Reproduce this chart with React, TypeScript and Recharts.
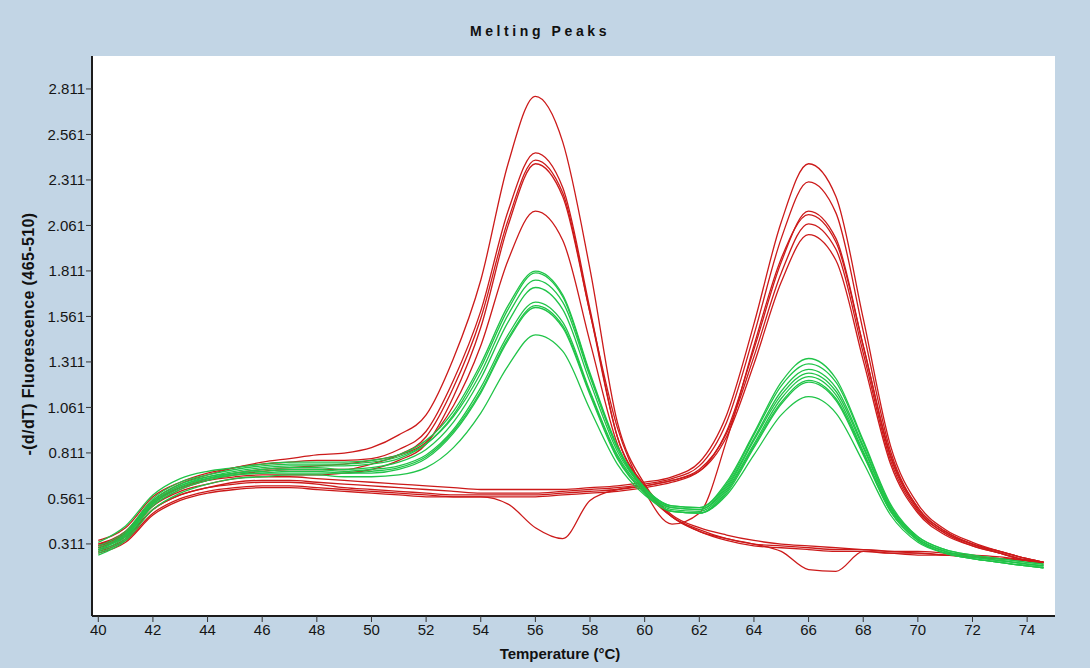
import { LineChart, Line, XAxis, YAxis, CartesianGrid } from 'recharts';

// temperature grid (°C)
const temps = [
  40, 41, 42, 43, 44, 45, 46, 47, 48, 49, 50, 51, 52, 53, 54, 55, 56, 57, 58, 59,
  60, 61, 62, 63, 64, 65, 66, 67, 68, 69, 70, 71, 72, 73, 74, 74.6,
];

// red: low-melting peak (~56 °C)
const red56a = [0.31, 0.38, 0.55, 0.64, 0.69, 0.73, 0.76, 0.78, 0.8, 0.81, 0.84, 0.91, 1.02, 1.33, 1.76, 2.4, 2.77, 2.52, 1.82, 0.98, 0.64, 0.47, 0.4, 0.36, 0.33, 0.31, 0.3, 0.29, 0.28, 0.27, 0.27, 0.26, 0.25, 0.24, 0.22, 0.21];
const red56b = [0.33, 0.4, 0.57, 0.65, 0.7, 0.73, 0.75, 0.76, 0.77, 0.77, 0.78, 0.83, 0.93, 1.21, 1.59, 2.14, 2.46, 2.27, 1.6, 0.9, 0.62, 0.46, 0.39, 0.34, 0.31, 0.3, 0.29, 0.28, 0.28, 0.27, 0.26, 0.25, 0.24, 0.23, 0.22, 0.21];
const red56c = [0.3, 0.36, 0.52, 0.61, 0.66, 0.69, 0.71, 0.72, 0.72, 0.72, 0.75, 0.8, 0.9, 1.17, 1.55, 2.09, 2.42, 2.24, 1.58, 0.9, 0.63, 0.46, 0.38, 0.33, 0.3, 0.29, 0.28, 0.27, 0.27, 0.26, 0.25, 0.25, 0.24, 0.23, 0.22, 0.21];
const red56d = [0.29, 0.36, 0.53, 0.62, 0.67, 0.7, 0.72, 0.73, 0.74, 0.75, 0.77, 0.8, 0.87, 1.07, 1.4, 1.87, 2.14, 1.98, 1.42, 0.86, 0.6, 0.46, 0.38, 0.34, 0.31, 0.27, 0.17, 0.16, 0.27, 0.26, 0.26, 0.25, 0.24, 0.23, 0.22, 0.21];
// red with both peaks
const redBoth = [0.31, 0.37, 0.54, 0.62, 0.66, 0.68, 0.69, 0.69, 0.69, 0.7, 0.72, 0.77, 0.86, 1.12, 1.5, 2.06, 2.4, 2.22, 1.58, 0.95, 0.6, 0.42, 0.48, 0.88, 1.4, 1.88, 2.12, 1.97, 1.4, 0.8, 0.51, 0.38, 0.31, 0.27, 0.23, 0.21];
// red: high-melting peak (~66 °C)
const red66a = [0.3, 0.37, 0.52, 0.6, 0.64, 0.67, 0.68, 0.68, 0.67, 0.66, 0.65, 0.64, 0.63, 0.62, 0.61, 0.61, 0.61, 0.61, 0.62, 0.63, 0.65, 0.68, 0.76, 1.02, 1.52, 2.08, 2.4, 2.22, 1.55, 0.85, 0.53, 0.39, 0.32, 0.27, 0.23, 0.21];
const red66b = [0.29, 0.35, 0.5, 0.58, 0.62, 0.65, 0.66, 0.66, 0.65, 0.64, 0.63, 0.62, 0.61, 0.6, 0.59, 0.59, 0.59, 0.6, 0.61, 0.62, 0.64, 0.67, 0.74, 0.98, 1.46, 1.99, 2.3, 2.13, 1.48, 0.82, 0.51, 0.38, 0.31, 0.27, 0.23, 0.21];
const red66c = [0.27, 0.33, 0.48, 0.56, 0.6, 0.62, 0.63, 0.63, 0.62, 0.61, 0.6, 0.59, 0.58, 0.57, 0.57, 0.57, 0.57, 0.58, 0.59, 0.6, 0.62, 0.65, 0.71, 0.93, 1.38, 1.86, 2.14, 1.99, 1.4, 0.79, 0.5, 0.37, 0.31, 0.26, 0.22, 0.21];
const red66d = [0.28, 0.34, 0.5, 0.58, 0.62, 0.64, 0.65, 0.65, 0.64, 0.62, 0.61, 0.6, 0.59, 0.58, 0.58, 0.58, 0.58, 0.59, 0.6, 0.61, 0.63, 0.66, 0.72, 0.92, 1.34, 1.8, 2.07, 1.93, 1.36, 0.77, 0.49, 0.37, 0.3, 0.26, 0.22, 0.21];
const red66e = [0.26, 0.32, 0.47, 0.55, 0.59, 0.61, 0.62, 0.62, 0.61, 0.6, 0.59, 0.58, 0.57, 0.57, 0.57, 0.53, 0.4, 0.34, 0.55, 0.61, 0.63, 0.66, 0.71, 0.9, 1.3, 1.75, 2.01, 1.87, 1.32, 0.75, 0.48, 0.36, 0.3, 0.26, 0.22, 0.2];

// green: both peaks
const greenA = [0.32, 0.41, 0.58, 0.67, 0.71, 0.73, 0.75, 0.76, 0.76, 0.76, 0.77, 0.8, 0.88, 1.04, 1.3, 1.62, 1.81, 1.68, 1.25, 0.85, 0.62, 0.52, 0.51, 0.65, 0.92, 1.2, 1.33, 1.22, 0.88, 0.53, 0.35, 0.28, 0.25, 0.23, 0.21, 0.2];
const greenB = [0.28, 0.36, 0.54, 0.63, 0.68, 0.71, 0.73, 0.74, 0.74, 0.74, 0.75, 0.78, 0.86, 1.02, 1.28, 1.6, 1.8, 1.67, 1.24, 0.84, 0.61, 0.51, 0.5, 0.62, 0.88, 1.13, 1.25, 1.15, 0.84, 0.51, 0.34, 0.27, 0.24, 0.22, 0.2, 0.19];
const greenC = [0.3, 0.38, 0.56, 0.65, 0.69, 0.72, 0.74, 0.75, 0.75, 0.75, 0.76, 0.79, 0.86, 1.01, 1.25, 1.57, 1.76, 1.64, 1.23, 0.84, 0.62, 0.52, 0.51, 0.64, 0.91, 1.18, 1.3, 1.2, 0.87, 0.52, 0.35, 0.28, 0.25, 0.23, 0.21, 0.2];
const greenD = [0.27, 0.35, 0.53, 0.62, 0.67, 0.7, 0.72, 0.73, 0.73, 0.72, 0.73, 0.76, 0.83, 0.98, 1.22, 1.53, 1.72, 1.6, 1.2, 0.82, 0.61, 0.51, 0.5, 0.63, 0.89, 1.15, 1.27, 1.17, 0.85, 0.51, 0.34, 0.27, 0.24, 0.22, 0.2, 0.19];
const greenE = [0.29, 0.37, 0.55, 0.64, 0.68, 0.7, 0.71, 0.72, 0.72, 0.71, 0.72, 0.74, 0.8, 0.94, 1.17, 1.46, 1.64, 1.53, 1.15, 0.8, 0.6, 0.5, 0.49, 0.61, 0.86, 1.11, 1.23, 1.13, 0.82, 0.5, 0.34, 0.27, 0.24, 0.22, 0.2, 0.19];
const greenF = [0.26, 0.34, 0.52, 0.61, 0.66, 0.69, 0.7, 0.71, 0.71, 0.7, 0.71, 0.73, 0.79, 0.93, 1.15, 1.44, 1.62, 1.51, 1.14, 0.79, 0.59, 0.49, 0.48, 0.6, 0.85, 1.09, 1.21, 1.11, 0.81, 0.49, 0.33, 0.26, 0.23, 0.21, 0.19, 0.18];
const greenG = [0.28, 0.36, 0.54, 0.63, 0.67, 0.69, 0.7, 0.7, 0.7, 0.7, 0.7, 0.72, 0.78, 0.92, 1.14, 1.43, 1.61, 1.5, 1.13, 0.78, 0.59, 0.49, 0.48, 0.59, 0.84, 1.08, 1.2, 1.1, 0.8, 0.49, 0.33, 0.26, 0.23, 0.21, 0.19, 0.18];
const greenH = [0.25, 0.33, 0.5, 0.59, 0.64, 0.67, 0.68, 0.69, 0.69, 0.68, 0.68, 0.69, 0.73, 0.84, 1.03, 1.29, 1.46, 1.37, 1.05, 0.75, 0.58, 0.49, 0.48, 0.58, 0.8, 1.02, 1.12, 1.03, 0.76, 0.47, 0.32, 0.26, 0.23, 0.21, 0.19, 0.18];

const xTicks = [40, 42, 44, 46, 48, 50, 52, 54, 56, 58, 60, 62, 64, 66, 68, 70, 72, 74];
const yTicks = [0.311, 0.561, 0.811, 1.061, 1.311, 1.561, 1.811, 2.061, 2.311, 2.561, 2.811];

const RED = '#cc1a1a';
const GREEN = '#20c448';
const X_DOMAIN = [39.77, 75.02];
const Y_DOMAIN = [-0.085, 2.992];

const series = [
  ...[red56a, red56b, red56c, red56d, redBoth, red66a, red66b, red66c, red66d, red66e].map(
    (values, i) => ({ key: `r${i}`, color: RED, values })
  ),
  ...[greenA, greenB, greenC, greenD, greenE, greenF, greenG, greenH].map((values, i) => ({
    key: `g${i}`,
    color: GREEN,
    values,
  })),
];

const rows = temps.map((t, i) => {
  const row: Record<string, number> = { t };
  series.forEach((s) => {
    row[s.key] = s.values[i];
  });
  return row;
});

// minor ticks every 0.05 between the labelled ones
const yMinorTicks: number[] = [];
for (let v = 0.311 - 0.35; v < 2.99; v += 0.05) yMinorTicks.push(Number(v.toFixed(3)));

const FONT = '"Liberation Sans", Arial, sans-serif';
const tickStyle = { fill: '#151515', fontSize: 15, fontFamily: FONT };
const frame = { stroke: '#1c1c1c', strokeWidth: 2 };

export default function App() {
  return (
    <div
      style={{
        position: 'absolute',
        left: 0,
        top: 0,
        width: 1090,
        height: 668,
        background: '#c2d5e5',
        fontFamily: FONT,
        color: '#111',
      }}
    >
      <div
        style={{
          position: 'absolute',
          top: 23,
          left: 0,
          width: 1080,
          textAlign: 'center',
          fontSize: 14,
          fontWeight: 'bold',
          letterSpacing: 3.6,
        }}
      >
        Melting Peaks
      </div>
      <div
        style={{
          position: 'absolute',
          left: 29,
          top: 334,
          transform: 'translate(-50%, -50%) rotate(-90deg)',
          whiteSpace: 'nowrap',
          fontSize: 16,
          fontWeight: 'bold',
          letterSpacing: 0.4,
        }}
      >
        -(d/dT) Fluorescence (465-510)
      </div>
      <div
        style={{
          position: 'absolute',
          left: 460,
          top: 645,
          width: 200,
          textAlign: 'center',
          fontSize: 15,
          fontWeight: 'bold',
        }}
      >
        Temperature (°C)
      </div>

      <LineChart
        width={1090}
        height={668}
        data={rows}
        margin={{ top: 56, right: 35, bottom: 22, left: 8 }}
        style={{ position: 'absolute', left: 0, top: 0 }}
      >
        <CartesianGrid xAxisId="b" yAxisId="l" fill="#ffffff" horizontal={false} vertical={false} />
        <XAxis
          xAxisId="b"
          dataKey="t"
          type="number"
          domain={X_DOMAIN}
          allowDataOverflow
          ticks={xTicks}
          tick={tickStyle}
          tickSize={6}
          tickMargin={2}
          tickLine={{ stroke: '#333' }}
          axisLine={frame}
          height={30}
        />
        <XAxis
          xAxisId="top"
          orientation="top"
          dataKey="t"
          type="number"
          domain={X_DOMAIN}
          allowDataOverflow
          tick={false}
          tickLine={false}
          axisLine={frame}
          height={0}
        />
        <YAxis
          yAxisId="l"
          type="number"
          domain={Y_DOMAIN}
          allowDataOverflow
          ticks={yTicks}
          tickFormatter={(v: number) => v.toFixed(3)}
          tick={tickStyle}
          tickSize={6}
          tickMargin={1}
          tickLine={{ stroke: '#333' }}
          axisLine={frame}
          width={84}
        />
        <YAxis
          yAxisId="minor"
          type="number"
          domain={Y_DOMAIN}
          allowDataOverflow
          ticks={yMinorTicks}
          tickFormatter={() => ''}
          tickSize={3}
          tickLine={{ stroke: '#555' }}
          axisLine={false}
          width={0}
        />
        <YAxis
          yAxisId="r"
          orientation="right"
          type="number"
          domain={Y_DOMAIN}
          allowDataOverflow
          tick={false}
          tickLine={false}
          axisLine={frame}
          width={0}
        />
        {series.map((s) => (
          <Line
            key={s.key}
            xAxisId="b"
            yAxisId="l"
            dataKey={s.key}
            type="monotone"
            stroke={s.color}
            strokeWidth={1.3}
            dot={false}
            activeDot={false}
            isAnimationActive={false}
          />
        ))}
      </LineChart>
    </div>
  );
}
